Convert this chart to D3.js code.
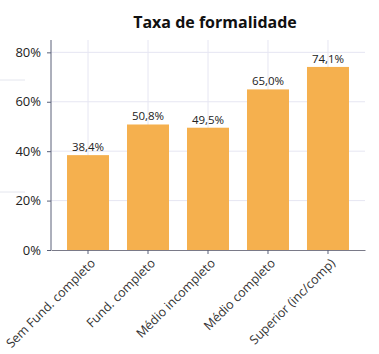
<!DOCTYPE html>
<html>
<head>
	<meta charset="UTF-8">
	<title>index</title>
	<script src="https://d3js.org/d3.v7.min.js"></script>
	<style>
		body { margin:0; background:#fff; }
		svg { display:block; font-family:"Open Sans", sans-serif; }
		.grid line { stroke:#e6e6f2; stroke-width:1; }
	</style>
</head>
<body>
<script>
	var categories = ["Sem Fund. completo", "Fund. completo", "Médio incompleto", "Médio completo", "Superior (inc/comp)"];
	var values = [0.384, 0.508, 0.495, 0.650, 0.741];
	var valueLabels = ["38,4%", "50,8%", "49,5%", "65,0%", "74,1%"];
	var yTicks = [0, 0.2, 0.4, 0.6, 0.8];

	var W = 379, H = 354;
	var plotLeft = 51, plotRight = 365, plotTop = 40, plotBottom = 250;

	var svg = d3.select("body").append("svg").attr("width", W).attr("height", H);

	var x = d3.scaleBand().domain(categories).range([plotLeft, plotRight]).paddingInner(0.3).paddingOuter(0.267);
	var y = d3.scaleLinear().domain([0, 0.85]).range([plotBottom, plotTop]);

	// faint stray lines at the left edge (as in the screenshot)
	svg.append("line").attr("x1", 0).attr("x2", 25).attr("y1", 80).attr("y2", 80).attr("stroke", "#e4e6ee");
	svg.append("line").attr("x1", 0).attr("x2", 25).attr("y1", 192).attr("y2", 192).attr("stroke", "#e4e6ee");

	// grid
	var grid = svg.append("g").attr("class", "grid");
	grid.selectAll(".h").data(yTicks.slice(1)).enter().append("line")
		.attr("x1", plotLeft).attr("x2", plotRight)
		.attr("y1", function(d){ return y(d); }).attr("y2", function(d){ return y(d); });
	grid.selectAll(".v").data(categories).enter().append("line")
		.attr("x1", function(d){ return x(d) + x.bandwidth()/2; })
		.attr("x2", function(d){ return x(d) + x.bandwidth()/2; })
		.attr("y1", plotTop).attr("y2", plotBottom);

	// bars
	svg.selectAll(".bar").data(values).enter().append("rect")
		.attr("x", function(d, i){ return x(categories[i]); })
		.attr("y", function(d){ return y(d); })
		.attr("width", x.bandwidth())
		.attr("height", function(d){ return plotBottom - y(d); })
		.attr("fill", "#f5b04e");

	// value labels
	svg.selectAll(".lbl").data(values).enter().append("text")
		.attr("x", function(d, i){ return x(categories[i]) + x.bandwidth()/2; })
		.attr("y", function(d){ return y(d) - 4; })
		.attr("text-anchor", "middle")
		.attr("font-size", 11.5)
		.attr("fill", "#222")
		.text(function(d, i){ return valueLabels[i]; });

	// y axis
	var yAxis = svg.append("g").attr("transform", "translate(" + plotLeft + ",0)")
		.call(d3.axisLeft(y).tickValues(yTicks).tickSize(4).tickPadding(6).tickFormat(d3.format(".0%")));
	yAxis.select(".domain").attr("stroke", "#5a6078").attr("d", "M0," + plotTop + "V" + plotBottom);
	yAxis.selectAll(".tick line").attr("stroke", "#5a6078");
	yAxis.selectAll("text").attr("font-size", 13).attr("fill", "#222").attr("font-family", "Open Sans");

	// x axis
	var xAxis = svg.append("g").attr("transform", "translate(0," + plotBottom + ")")
		.call(d3.axisBottom(x).tickSize(4).tickSizeOuter(0));
	xAxis.select(".domain").attr("stroke", "#7a7a88");
	xAxis.selectAll(".tick line").attr("stroke", "#5a6078");
	xAxis.selectAll("text")
		.attr("font-size", 12.5).attr("fill", "#333").attr("font-family", "Open Sans")
		.attr("text-anchor", "end")
		.attr("dy", null).attr("y", 0)
		.attr("transform", "translate(8,14) rotate(-45)");

	// title
	svg.append("text").attr("x", 215).attr("y", 28).attr("text-anchor", "middle")
		.attr("font-size", 16).attr("font-weight", "bold").attr("fill", "#111")
		.text("Taxa de formalidade");
</script>
</body>
</html>
